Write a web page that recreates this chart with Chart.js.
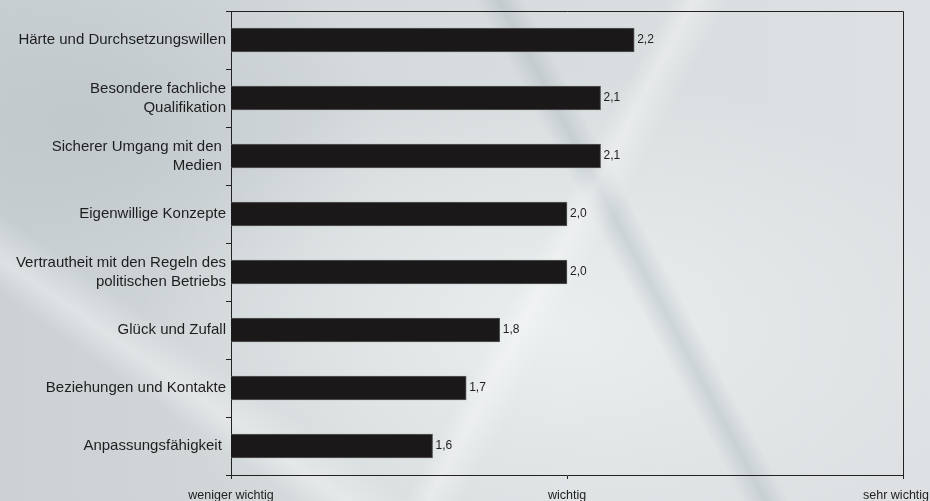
<!DOCTYPE html>
<html>
<head>
<meta charset="utf-8">
<script src="https://cdn.jsdelivr.net/npm/chart.js@4.4.1/dist/chart.umd.min.js"></script>
<style>
  html, body {
    margin: 0;
    padding: 0;
    width: 930px;
    height: 501px;
    overflow: hidden;
  }
  body {
    background:
      linear-gradient(118deg, transparent 0 56%, rgba(255,255,255,0.35) 58%, transparent 61%),
      linear-gradient(62deg, transparent 0 62%, rgba(160,172,178,0.35) 64%, transparent 66%),
      linear-gradient(35deg, transparent 0 18%, rgba(245,247,248,0.45) 21%, transparent 25%),
      radial-gradient(ellipse 420px 260px at 560px 330px, rgba(236,240,241,0.9), rgba(236,240,241,0) 100%),
      radial-gradient(ellipse 300px 200px at 80px 120px, rgba(190,198,202,0.8), rgba(190,198,202,0) 100%),
      linear-gradient(90deg, #cbd1d4 0%, #d5dadc 40%, #dde1e3 100%);
  }
  #wrap {
    position: absolute;
    left: 0;
    top: 0;
    width: 930px;
    height: 501px;
  }
</style>
</head>
<body>
<div id="wrap"><canvas id="chart" width="930" height="501"></canvas></div>
<script>
const categories = [
  "Härte und Durchsetzungswillen",
  ["Besondere fachliche", "Qualifikation"],
  ["Sicherer Umgang mit den ", "Medien "],
  "Eigenwillige Konzepte",
  ["Vertrautheit mit den Regeln des", "politischen Betriebs"],
  "Glück und Zufall",
  "Beziehungen und Kontakte",
  "Anpassungsfähigkeit "
];
const values = [2.2, 2.1, 2.1, 2.0, 2.0, 1.8, 1.7, 1.6];
const tickLabels = { 1: "weniger wichtig", 2: "wichtig", 3: "sehr wichtig    " };

const fontFamily = "'Liberation Sans', Arial, Helvetica, sans-serif";
Chart.defaults.font.family = fontFamily;
Chart.defaults.color = "#1e1e1e";

const valueLabels = {
  id: "valueLabels",
  afterDatasetsDraw(chart) {
    const ctx = chart.ctx;
    const meta = chart.getDatasetMeta(0);
    ctx.save();
    ctx.font = "12px " + fontFamily;
    ctx.fillStyle = "#222";
    ctx.textAlign = "left";
    ctx.textBaseline = "middle";
    meta.data.forEach((bar, i) => {
      const txt = values[i].toFixed(1).replace(".", ",");
      ctx.fillText(txt, bar.x + 3, bar.y);
    });
    ctx.restore();
  }
};

const plotFrame = {
  id: "plotFrame",
  afterDraw(chart) {
    const a = chart.chartArea;
    const ctx = chart.ctx;
    ctx.save();
    ctx.strokeStyle = "#222";
    ctx.lineWidth = 1;
    ctx.beginPath();
    ctx.moveTo(a.left, a.top + 0.5);
    ctx.lineTo(a.right + 0.5, a.top + 0.5);
    ctx.lineTo(a.right + 0.5, a.bottom);
    ctx.stroke();
    ctx.restore();
  }
};

new Chart(document.getElementById("chart"), {
  type: "bar",
  data: {
    labels: categories,
    datasets: [{
      data: values,
      backgroundColor: "#1b1819",
      borderColor: "#5a5a5a",
      borderWidth: 1,
      borderSkipped: "start",
      barThickness: 24
    }]
  },
  options: {
    indexAxis: "y",
    responsive: false,
    animation: false,
    layout: {
      padding: { top: 11, right: 27, left: 0, bottom: 0 }
    },
    plugins: {
      legend: { display: false },
      tooltip: { enabled: false }
    },
    scales: {
      x: {
        min: 1,
        max: 3,
        afterFit: scale => {
          scale.height = 26;
          scale.paddingLeft = 0;
          scale.paddingRight = 0;
        },
        ticks: {
          stepSize: 1,
          autoSkip: false,
          maxRotation: 0,
          padding: 9,
          font: { size: 12.5 },
          color: "#222",
          callback: v => tickLabels[v] || ""
        },
        grid: {
          drawOnChartArea: false,
          tickLength: 4,
          color: "#222"
        },
        border: { color: "#222", width: 1 }
      },
      y: {
        afterFit: scale => {
          scale.width = 231;
          scale.paddingTop = 0;
          scale.paddingBottom = 0;
        },
        ticks: {
          autoSkip: false,
          padding: 0,
          font: { size: 15, lineHeight: 1.27 },
          color: "#1e1e1e"
        },
        grid: {
          offset: true,
          drawOnChartArea: false,
          tickLength: 5,
          color: "#222"
        },
        border: { color: "#222", width: 1 }
      }
    }
  },
  plugins: [valueLabels, plotFrame]
});
</script>
</body>
</html>
